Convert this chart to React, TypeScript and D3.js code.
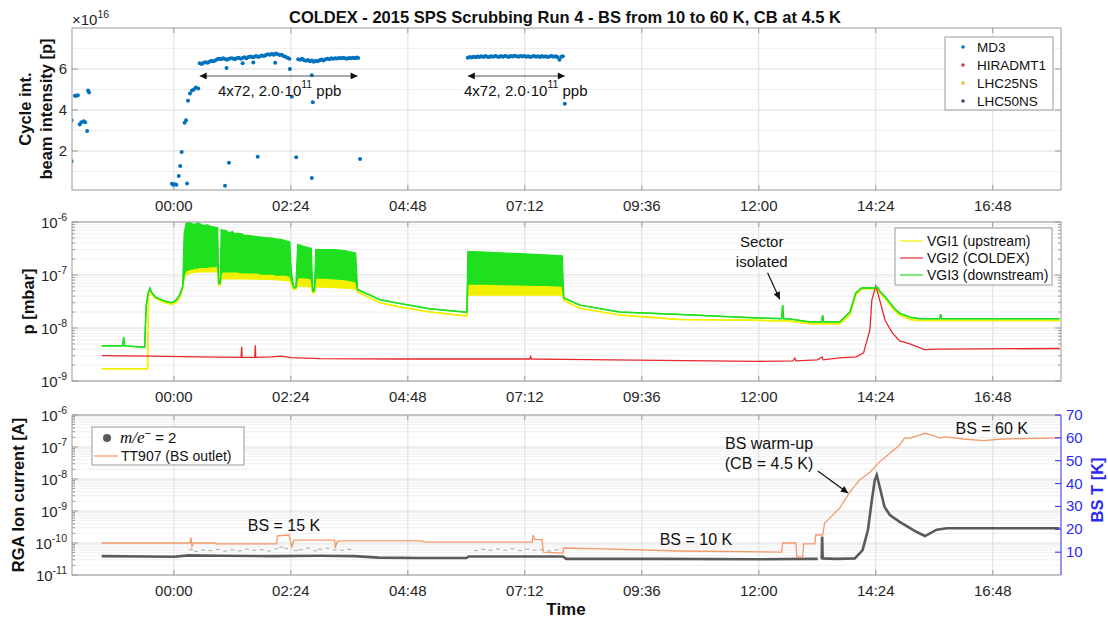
import React from 'react';
import * as d3 from 'd3';

// ---------------- data ----------------
const TIME_TICKS = [0, 2.4, 4.8, 7.2, 9.6, 12, 14.4, 16.8];
const TIME_LABELS = ['00:00', '02:24', '04:48', '07:12', '09:36', '12:00', '14:24', '16:48'];
const TIME_DOMAIN: [number, number] = [-2.09, 18.2];

const INTENSITY_TICKS = [2, 4, 6];
const INTENSITY_MINOR = [1, 3, 5, 7];
// MD3 cycle integrated intensity [1e16 p], time in hours from 00:00
const MD3: [number, number][] = [
  [-2.1, 3.5], [-2.1, 1.5], [-2.03, 4.7], [-2.0, 4.7], [-1.97, 4.72], [-1.93, 3.3], [-1.9, 3.4],
  [-1.85, 3.45], [-1.82, 3.4], [-1.78, 2.98], [-1.76, 4.95], [-1.74, 4.85],
  [-0.04, 0.4], [-0.01, 0.35], [0.02, 0.38], [0.05, 0.36], [0.1, 0.78], [0.13, 1.27], [0.16, 1.95],
  [0.22, 3.38], [0.25, 3.5], [0.27, 0.42], [0.29, 4.45], [0.33, 4.8], [0.37, 4.95], [0.41, 5.0],
  [0.45, 5.1], [0.5, 5.05],
  [0.53, 6.28], [0.57, 6.25], [0.61, 6.3], [0.65, 6.33], [0.69, 6.31], [0.73, 6.36], [0.77, 6.4],
  [0.81, 6.38], [0.85, 6.42], [0.89, 6.47], [0.93, 6.5], [0.97, 6.48], [1.01, 6.52], [1.05, 6.49],
  [1.09, 6.45], [1.13, 6.5], [1.17, 6.53], [1.21, 6.51], [1.25, 6.47], [1.29, 6.52], [1.33, 6.55],
  [1.37, 6.5], [1.41, 6.54], [1.45, 6.57], [1.49, 6.53], [1.53, 6.58], [1.57, 6.61], [1.61, 6.57],
  [1.65, 6.6], [1.69, 6.63], [1.73, 6.58], [1.77, 6.62], [1.81, 6.66], [1.85, 6.63], [1.89, 6.68],
  [1.93, 6.72], [1.97, 6.69], [2.01, 6.74], [2.05, 6.7], [2.09, 6.76], [2.13, 6.72], [2.17, 6.68],
  [2.21, 6.7], [2.25, 6.64], [2.29, 6.6], [2.33, 6.55], [2.37, 6.5],
  [1.08, 6.05], [1.41, 6.28], [1.63, 6.32], [2.08, 6.3], [2.38, 6.0], [2.42, 4.65],
  [1.05, 0.31], [1.13, 1.43], [1.72, 1.72], [2.51, 1.7], [2.83, 5.7], [2.85, 4.38], [2.83, 0.68], [3.82, 1.61],
  [2.55, 6.48], [2.59, 6.45], [2.63, 6.5], [2.67, 6.43], [2.71, 6.4], [2.75, 6.44], [2.79, 6.38],
  [2.83, 6.42], [2.87, 6.36], [2.91, 6.4], [2.95, 6.38], [2.99, 6.43], [3.03, 6.46], [3.07, 6.42],
  [3.11, 6.47], [3.15, 6.5], [3.19, 6.48], [3.23, 6.52], [3.27, 6.5], [3.31, 6.53], [3.35, 6.51],
  [3.39, 6.54], [3.43, 6.52], [3.47, 6.55], [3.51, 6.53], [3.55, 6.5], [3.59, 6.54], [3.63, 6.52],
  [3.67, 6.55], [3.71, 6.53], [3.75, 6.56], [3.78, 6.54],
  [6.03, 6.55], [6.07, 6.58], [6.11, 6.56], [6.15, 6.6], [6.19, 6.57], [6.23, 6.61], [6.27, 6.58],
  [6.31, 6.62], [6.35, 6.59], [6.39, 6.63], [6.43, 6.6], [6.47, 6.58], [6.51, 6.62], [6.55, 6.6],
  [6.59, 6.64], [6.63, 6.61], [6.67, 6.59], [6.71, 6.63], [6.75, 6.6], [6.79, 6.64], [6.83, 6.62],
  [6.87, 6.59], [6.91, 6.63], [6.95, 6.61], [6.99, 6.65], [7.03, 6.62], [7.07, 6.6], [7.11, 6.64],
  [7.15, 6.61], [7.19, 6.63], [7.23, 6.6], [7.27, 6.62], [7.31, 6.58], [7.35, 6.61], [7.39, 6.63],
  [7.43, 6.6], [7.47, 6.62], [7.51, 6.59], [7.55, 6.63], [7.59, 6.6], [7.63, 6.62], [7.67, 6.58],
  [7.71, 6.61], [7.75, 6.63], [7.79, 6.6], [7.83, 6.62], [7.87, 6.58], [7.91, 6.45], [7.95, 6.6],
  [7.98, 6.62], [8.02, 4.3],
];
const TOP_LEGEND = ['MD3', 'HIRADMT1', 'LHC25NS', 'LHC50NS'];
const TOP_LEGEND_COLORS = ['#0072BD', '#dd3b4f', '#e8c02a', '#4a3f78'];

// pressure [mbar]: [t, low, high] (high omitted when the trace is a single line)
const P_DECADES = [-9, -8, -7, -6];
const VGI3: number[][] = [
  [-1.48, 4.6e-9], [-1.05, 4.6e-9], [-1.03, 6.7e-9], [-1.01, 4.6e-9], [-0.7, 4.4e-9], [-0.6, 4.3e-9],
  [-0.57, 2.5e-8], [-0.53, 4.5e-8], [-0.49, 5.6e-8], [-0.45, 4.6e-8], [-0.37, 3.8e-8], [-0.18, 3.2e-8],
  [-0.04, 3.0e-8], [0.04, 3.3e-8], [0.12, 4.2e-8], [0.18, 6.0e-8],
  [0.21, 1.0e-7, 6.0e-7], [0.25, 1.2e-7, 9.5e-7], [0.33, 1.3e-7, 9.8e-7], [0.38, 1.3e-7, 9.2e-7],
  [0.43, 1.35e-7, 9.0e-7], [0.48, 1.35e-7, 9.6e-7], [0.53, 1.4e-7, 9.3e-7], [0.58, 1.4e-7, 8.8e-7],
  [0.63, 1.4e-7, 8.6e-7], [0.68, 1.4e-7, 8.9e-7], [0.74, 1.45e-7, 8.4e-7], [0.79, 1.45e-7, 8.2e-7],
  [0.84, 1.45e-7, 8.0e-7], [0.9, 1.45e-7, 7.8e-7], [0.92, 7.0e-8], [0.95, 7.0e-8],
  [0.97, 1.1e-7, 7.2e-7], [1.02, 1.15e-7, 7.0e-7], [1.07, 1.15e-7, 6.9e-7], [1.13, 1.15e-7, 6.2e-7],
  [1.2, 1.15e-7, 6.6e-7], [1.25, 1.15e-7, 6.0e-7], [1.3, 1.15e-7, 6.1e-7], [1.4, 1.1e-7, 6.0e-7],
  [1.45, 1.1e-7, 5.5e-7], [1.5, 1.1e-7, 5.6e-7], [1.6, 1.1e-7, 5.5e-7], [1.7, 1.1e-7, 5.3e-7],
  [1.8, 1.05e-7, 5.2e-7], [1.9, 1.05e-7, 5.0e-7], [2.0, 1.05e-7, 5.0e-7], [2.1, 1.0e-7, 4.8e-7],
  [2.2, 1.0e-7, 4.7e-7], [2.3, 1.0e-7, 4.4e-7], [2.38, 9.5e-8, 4.2e-7], [2.41, 8.0e-8, 1.2e-7],
  [2.46, 5.8e-8], [2.5, 5.8e-8], [2.54, 9.0e-8, 3.8e-7], [2.65, 9.0e-8, 3.5e-7], [2.75, 8.8e-8, 3.3e-7],
  [2.82, 8.5e-8, 3.2e-7], [2.85, 5.0e-8], [2.88, 5.0e-8], [2.91, 8.8e-8, 3.0e-7], [3.1, 8.8e-8, 3.0e-7],
  [3.3, 8.5e-8, 3.0e-7], [3.5, 8.2e-8, 2.9e-7], [3.73, 7.5e-8, 2.6e-7], [3.77, 5.3e-8],
  [4.02, 4.2e-8], [4.23, 3.4e-8], [4.64, 2.9e-8], [5.25, 2.3e-8], [5.97, 2.0e-8], [6.01, 2.0e-8],
  [6.03, 6.8e-8, 2.8e-7], [6.4, 6.8e-8, 2.7e-7], [6.8, 6.6e-8, 2.6e-7], [7.2, 6.5e-8, 2.5e-7],
  [7.6, 6.4e-8, 2.4e-7], [7.97, 6.2e-8, 2.3e-7], [8.0, 3.7e-8], [8.33, 2.7e-8], [9.15, 2.0e-8],
  [10.38, 1.8e-8], [11.96, 1.55e-8], [12.47, 1.5e-8], [12.49, 2.7e-8], [12.51, 1.5e-8], [12.64, 1.48e-8],
  [13.05, 1.3e-8], [13.29, 1.3e-8], [13.31, 1.76e-8], [13.33, 1.3e-8], [13.66, 1.3e-8], [13.87, 2.0e-8],
  [13.99, 4.6e-8], [14.11, 5.7e-8], [14.38, 5.7e-8], [14.42, 6.0e-8], [14.48, 5.0e-8], [14.59, 3.9e-8],
  [14.79, 2.3e-8], [14.89, 1.9e-8], [15.1, 1.6e-8], [15.3, 1.5e-8], [15.71, 1.5e-8], [15.73, 1.8e-8],
  [15.75, 1.5e-8], [18.17, 1.5e-8],
];
const VGI1: number[][] = [
  [-1.48, 1.7e-9], [-0.54, 1.7e-9], [-0.52, 4.0e-8], [-0.49, 5.2e-8], [-0.45, 4.3e-8], [-0.37, 3.6e-8],
  [-0.18, 3.0e-8], [-0.04, 2.8e-8], [0.04, 3.0e-8], [0.12, 3.8e-8], [0.18, 5.5e-8],
  [0.21, 9.0e-8, 1.0e-7], [0.25, 1.0e-7, 1.25e-7], [0.33, 1.1e-7, 1.35e-7], [0.53, 1.15e-7, 1.45e-7],
  [0.74, 1.15e-7, 1.5e-7], [0.9, 1.15e-7, 1.5e-7], [0.92, 6.5e-8], [0.95, 6.5e-8],
  [0.97, 8.5e-8, 1.2e-7], [1.4, 8.5e-8, 1.2e-7], [2.0, 8.3e-8, 1.1e-7], [2.38, 7.8e-8, 1.0e-7],
  [2.41, 6.5e-8, 8.0e-8], [2.46, 5.4e-8], [2.5, 5.4e-8], [2.54, 6.2e-8, 9.0e-8], [2.82, 6.0e-8, 8.8e-8],
  [2.85, 4.6e-8], [2.88, 4.6e-8], [2.91, 6.0e-8, 8.8e-8], [3.3, 5.8e-8, 8.5e-8], [3.73, 5.5e-8, 7.5e-8],
  [3.77, 4.8e-8], [4.02, 3.7e-8], [4.23, 3.0e-8], [4.64, 2.5e-8], [5.25, 2.0e-8], [5.97, 1.7e-8],
  [6.01, 1.7e-8], [6.03, 4.2e-8, 6.8e-8], [7.97, 4.2e-8, 6.2e-8], [8.0, 3.3e-8], [8.33, 2.35e-8],
  [9.15, 1.75e-8], [10.38, 1.45e-8], [11.96, 1.4e-8], [12.64, 1.35e-8], [13.05, 1.2e-8], [13.66, 1.2e-8],
  [13.87, 1.8e-8], [13.99, 4.2e-8], [14.11, 5.5e-8], [14.38, 5.5e-8], [14.48, 4.7e-8], [14.59, 3.6e-8],
  [14.79, 2.1e-8], [14.89, 1.75e-8], [15.1, 1.45e-8], [15.3, 1.38e-8], [18.17, 1.38e-8],
];
const VGI2: [number, number][] = [
  [-1.48, 3.0e-9], [-0.5, 2.95e-9], [0.5, 2.85e-9], [1.38, 2.8e-9], [1.39, 4.4e-9], [1.4, 2.8e-9],
  [1.66, 2.8e-9], [1.67, 4.7e-9], [1.68, 2.8e-9], [2.0, 2.85e-9], [2.2, 2.95e-9], [2.4, 2.75e-9],
  [3.0, 2.65e-9], [4.64, 2.6e-9], [6.0, 2.6e-9], [7.3, 2.6e-9], [7.32, 2.9e-9], [7.34, 2.6e-9],
  [8.0, 2.55e-9], [10.0, 2.45e-9], [12.0, 2.35e-9], [12.7, 2.4e-9], [12.74, 2.7e-9], [12.76, 2.4e-9],
  [13.2, 2.5e-9], [13.3, 2.85e-9], [13.32, 2.5e-9], [13.66, 2.74e-9], [14.0, 2.85e-9], [14.15, 3.4e-9],
  [14.28, 9.3e-9], [14.32, 3.4e-8], [14.4, 6.2e-8], [14.48, 3.4e-8], [14.59, 1.4e-8], [14.74, 8.1e-9],
  [14.89, 5.7e-9], [15.1, 5.0e-9], [15.4, 3.9e-9], [15.7, 4.0e-9], [18.17, 4.1e-9],
];
const P_LEGEND = ['VGI1 (upstream)', 'VGI2 (COLDEX)', 'VGI3 (downstream)'];
const P_COLORS = ['#f2f000', '#e8282c', '#1ee01e'];

// RGA ion current [A]
const RGA_DECADES = [-11, -10, -9, -8, -7, -6];
const RGA_M2: [number, number][] = [
  [-1.48, 3.9e-11], [-0.6, 3.8e-11], [0.0, 3.7e-11], [0.3, 4.1e-11], [1.0, 4.0e-11], [2.0, 3.9e-11],
  [3.0, 4.0e-11], [3.7, 3.9e-11], [4.2, 3.5e-11], [5.0, 3.4e-11], [6.0, 3.4e-11], [6.05, 3.8e-11],
  [7.0, 3.8e-11], [7.98, 3.8e-11], [8.05, 3.2e-11], [10.0, 3.2e-11], [12.0, 3.1e-11], [13.0, 3.2e-11],
  [13.21, 3.2e-11], [13.25, NaN], [13.29, 3.2e-11], [13.3, 1.6e-10], [13.31, 3.3e-11], [13.6, 3.2e-11],
  [13.97, 3.3e-11], [14.13, 6e-11], [14.24, 2.6e-10], [14.32, 2.2e-9], [14.38, 9.3e-9], [14.42, 1.33e-8],
  [14.48, 5.6e-9], [14.58, 1.33e-9], [14.69, 7.5e-10], [14.89, 4.6e-10], [15.24, 2.2e-10],
  [15.41, 1.65e-10], [15.65, 2.6e-10], [15.86, 2.9e-10], [18.17, 2.9e-10],
];
const RGA_M2_SCATTER: [number, number][] = [
  [0.35, 6.2e-11], [0.45, 5.5e-11], [0.6, 6.0e-11], [0.75, 5.8e-11], [0.9, 6.3e-11], [1.05, 5.6e-11],
  [1.2, 6.1e-11], [1.35, 5.7e-11], [1.5, 6.4e-11], [1.65, 5.9e-11], [1.8, 6.2e-11], [1.95, 5.6e-11],
  [2.1, 6.6e-11], [2.2, 7.5e-11], [2.3, 6.8e-11], [2.5, 5.8e-11], [2.6, 6.2e-11], [2.75, 6.9e-11],
  [2.9, 5.7e-11], [3.0, 6.4e-11], [3.15, 6.8e-11], [3.3, 6.1e-11], [3.45, 5.9e-11], [3.6, 6.3e-11],
  [6.2, 5.8e-11], [6.35, 6.3e-11], [6.5, 5.9e-11], [6.65, 6.5e-11], [6.8, 6.0e-11], [6.95, 6.6e-11],
  [7.1, 5.8e-11], [7.25, 6.4e-11], [7.4, 6.0e-11], [7.55, 6.2e-11], [7.7, 5.7e-11], [7.85, 6.1e-11],
];
// TT907 beam screen temperature [K]
const BST_TICKS = [10, 20, 30, 40, 50, 60, 70];
const TT907: [number, number][] = [
  [-1.48, 14.0], [0.33, 14.0], [0.35, 16.5], [0.37, 12.5], [0.4, 14.0], [0.84, 14.0], [0.86, 13.6],
  [2.11, 13.6], [2.12, 17.1], [2.36, 17.5], [2.42, 12.3], [2.46, 15.3], [3.3, 15.3], [3.31, 11.8],
  [3.36, 14.9], [5.1, 14.9], [5.15, 14.4], [7.35, 14.4], [7.37, 17.5], [7.4, 15.5], [7.55, 15.5],
  [7.58, 10.0], [7.98, 9.6], [8.0, 11.8], [8.8, 11.4], [10.38, 10.5], [12.47, 10.0], [12.49, 14.0],
  [12.76, 14.0], [12.78, 7.9], [12.9, 7.9], [12.92, 13.6], [13.15, 13.6], [13.17, 17.5], [13.31, 17.5],
  [13.35, 22.7], [13.46, 25.0], [13.66, 29.3], [13.87, 36.4], [14.07, 41.6], [14.28, 45.0],
  [14.48, 49.5], [14.69, 53.3], [14.89, 56.9], [14.99, 59.9], [15.1, 59.9], [15.3, 61.2], [15.41, 62.0],
  [15.61, 60.8], [15.71, 59.9], [15.82, 60.4], [16.2, 59.5], [16.6, 58.8], [17.0, 59.5], [18.17, 60.0],
];

// ---------------- layout / style ----------------
const W = 1108, H = 621;
const XL = 72, XR = 1061;
const TOP = { y0: 28, y1: 190 };
const MID = { y0: 222, y1: 381 };
const BOT = { y0: 415, y1: 575 };
const FONT = "'Liberation Sans', Arial, Helvetica, sans-serif";
const GRID = '#dedede';
const MINOR = '#f0f0f0';
const AXIS = '#9a9a9a';
const TXT = '#262626';
const BLUE = '#2b2bf0';

const x = d3.scaleLinear().domain(TIME_DOMAIN).range([XL, XR]);
const yTop = d3.scaleLinear().domain([0.1, 8]).range([TOP.y1, TOP.y0]);
const yMid = d3.scaleLog().domain([1e-9, 1e-6]).range([MID.y1, MID.y0]);
const yBot = d3.scaleLog().domain([1e-11, 1e-6]).range([BOT.y1, BOT.y0]);
const yBst = d3.scaleLinear().domain([0, 70]).range([BOT.y1, BOT.y0]);

function minorLog(decades: number[]) {
  const out: number[] = [];
  for (let i = 0; i < decades.length - 1; i++) for (let k = 2; k <= 9; k++) out.push(k * Math.pow(10, decades[i]));
  return out;
}

function TimeGrid({ y0, y1, labels }: { y0: number; y1: number; labels: boolean }) {
  return (
    <g>
      {TIME_TICKS.map((t, i) => (
        <g key={i}>
          <line x1={x(t)} x2={x(t)} y1={y0} y2={y1} stroke={GRID} />
          <line x1={x(t)} x2={x(t)} y1={y1} y2={y1 - 5} stroke={AXIS} />
          <line x1={x(t)} x2={x(t)} y1={y0} y2={y0 + 5} stroke={AXIS} />
          {labels && (
            <text x={x(t)} y={y1 + 21} textAnchor="middle" fontSize={15} fill={TXT}>{TIME_LABELS[i]}</text>
          )}
        </g>
      ))}
    </g>
  );
}

function LogAxis({ y, decades, y0, y1, rightTicks }: any) {
  const minors = minorLog(decades);
  return (
    <g>
      {minors.map((v, i) => (
        <line key={'m' + i} x1={XL} x2={XR} y1={y(v)} y2={y(v)} stroke={MINOR} />
      ))}
      {decades.map((e: number, i: number) => (
        <line key={'g' + i} x1={XL} x2={XR} y1={y(Math.pow(10, e))} y2={y(Math.pow(10, e))} stroke={GRID} />
      ))}
      {minors.map((v, i) => (
        <g key={'mt' + i}>
          <line x1={XL} x2={XL + 3} y1={y(v)} y2={y(v)} stroke={AXIS} />
          {rightTicks && <line x1={XR} x2={XR - 3} y1={y(v)} y2={y(v)} stroke={AXIS} />}
        </g>
      ))}
      {decades.map((e: number, i: number) => (
        <g key={'t' + i}>
          <line x1={XL} x2={XL + 6} y1={y(Math.pow(10, e))} y2={y(Math.pow(10, e))} stroke={AXIS} />
          {rightTicks && <line x1={XR} x2={XR - 6} y1={y(Math.pow(10, e))} y2={y(Math.pow(10, e))} stroke={AXIS} />}
          <text x={67} y={y(Math.pow(10, e)) + 6} textAnchor="end" fontSize={15} fill={TXT}>
            10<tspan dy={-7} fontSize={10.5}>{String(e)}</tspan>
          </text>
        </g>
      ))}
    </g>
  );
}

function band(rows: number[][], y: any) {
  const r = rows.map((d) => [d[0], d[1], d.length > 2 ? d[2] : d[1]]);
  const area = d3.area<number[]>().x((d) => x(d[0])).y0((d) => y(d[1])).y1((d) => y(d[2]));
  const lo = d3.line<number[]>().x((d) => x(d[0])).y((d) => y(d[1]));
  const hi = d3.line<number[]>().x((d) => x(d[0])).y((d) => y(d[2]));
  return { area: area(r) || '', lo: lo(r) || '', hi: hi(r) || '' };
}

export default function App() {
  const g3 = band(VGI3, yMid);
  const g1 = band(VGI1, yMid);
  const red = d3.line<[number, number]>().x((d) => x(d[0])).y((d) => yMid(d[1]))(VGI2) || '';
  const m2 = d3
    .line<[number, number]>()
    .defined((d) => !isNaN(d[1]))
    .x((d) => x(d[0]))
    .y((d) => yBot(d[1]))(RGA_M2) || '';
  const tt = d3.line<[number, number]>().x((d) => x(d[0])).y((d) => yBst(d[1]))(TT907) || '';

  return (
    <svg width={W} height={H} viewBox={`0 0 ${W} ${H}`} fontFamily={FONT}
      style={{ position: 'absolute', left: 0, top: 0, background: '#fff' }}>
      <defs>
        <clipPath id="cTop"><rect x={XL} y={TOP.y0} width={XR - XL} height={TOP.y1 - TOP.y0} /></clipPath>
        <clipPath id="cMid"><rect x={XL} y={MID.y0} width={XR - XL} height={MID.y1 - MID.y0} /></clipPath>
        <clipPath id="cBot"><rect x={XL} y={BOT.y0} width={XR - XL} height={BOT.y1 - BOT.y0} /></clipPath>
        <marker id="ah" viewBox="0 0 10 10" refX={10} refY={5} markerWidth={9} markerHeight={7}
          orient="auto-start-reverse" markerUnits="userSpaceOnUse">
          <path d="M0,0 L10,5 L0,10 z" fill="#111" />
        </marker>
      </defs>
      <rect x={0} y={0} width={W} height={H} fill="#fff" />

      {/* Title */}
      <text x={565} y={23} textAnchor="middle" fontSize={16.5} fontWeight="bold" fill="#111">
        COLDEX - 2015 SPS Scrubbing Run 4 - BS from 10 to 60 K, CB at 4.5 K
      </text>

      {/* ---------------- TOP PANEL ---------------- */}
      <g>
        {INTENSITY_MINOR.map((v) => (
          <line key={'tm' + v} x1={XL} x2={XR} y1={yTop(v)} y2={yTop(v)} stroke={MINOR} />
        ))}
        {INTENSITY_TICKS.map((v) => (
          <g key={'tt' + v}>
            <line x1={XL} x2={XR} y1={yTop(v)} y2={yTop(v)} stroke={GRID} />
            <line x1={XL} x2={XL + 6} y1={yTop(v)} y2={yTop(v)} stroke={AXIS} />
            <line x1={XR} x2={XR - 6} y1={yTop(v)} y2={yTop(v)} stroke={AXIS} />
            <text x={67} y={yTop(v) + 5} textAnchor="end" fontSize={15} fill={TXT}>{v}</text>
          </g>
        ))}
        <TimeGrid y0={TOP.y0} y1={TOP.y1} labels={true} />
        <g clipPath="url(#cTop)">
          {MD3.map((d, i) => (
            <circle key={i} cx={x(d[0])} cy={yTop(d[1])} r={2} fill="#0072BD" />
          ))}
        </g>
        <rect x={XL} y={TOP.y0} width={XR - XL} height={TOP.y1 - TOP.y0} fill="none" stroke={AXIS} />
        <text x={72} y={25} fontSize={15} fill={TXT}>
          ×10<tspan dy={-7} fontSize={10.5}>16</tspan>
        </text>
        <text transform={`translate(25,${(TOP.y0 + TOP.y1) / 2}) rotate(-90)`} textAnchor="middle"
          dominantBaseline="central" fontSize={16.5} fontWeight="bold" fill="#111">Cycle int.</text>
        <text transform={`translate(46,${(TOP.y0 + TOP.y1) / 2}) rotate(-90)`} textAnchor="middle"
          dominantBaseline="central" fontSize={16.5} fontWeight="bold" fill="#111">beam intensity [p]</text>

        {/* arrows */}
        {[[0.53, 3.77, 2.17], [6.03, 8.02, 7.22]].map((a, i) => (
          <g key={'ar' + i}>
            <line x1={x(a[0])} x2={x(a[1])} y1={yTop(5.66)} y2={yTop(5.66)} stroke="#555" strokeWidth={1.2}
              markerStart="url(#ah)" markerEnd="url(#ah)" />
            <text x={x(a[2])} y={yTop(4.68)} textAnchor="middle" fontSize={15} fill="#111">
              4x72, 2.0·10<tspan dy={-8} fontSize={10.5}>11</tspan><tspan dy={8}> ppb</tspan>
            </text>
          </g>
        ))}

        {/* legend */}
        <rect x={945} y={37} width={108} height={73} fill="#fff" stroke={AXIS} />
        {TOP_LEGEND.map((s, i) => (
          <g key={s}>
            <circle cx={963} cy={47 + i * 18} r={1.8} fill={TOP_LEGEND_COLORS[i]} />
            <text x={977} y={47 + i * 18 + 5} fontSize={13.5} fill="#111">{s}</text>
          </g>
        ))}
      </g>

      {/* ---------------- MIDDLE PANEL ---------------- */}
      <g>
        <LogAxis y={yMid} decades={P_DECADES} y0={MID.y0} y1={MID.y1} rightTicks={true} />
        <TimeGrid y0={MID.y0} y1={MID.y1} labels={true} />
        <g clipPath="url(#cMid)">
          <path d={g1.area} fill={P_COLORS[0]} stroke="none" />
          <path d={g1.lo} fill="none" stroke={P_COLORS[0]} strokeWidth={1.5} />
          <path d={g1.hi} fill="none" stroke={P_COLORS[0]} strokeWidth={1.5} />
          <path d={red} fill="none" stroke={P_COLORS[1]} strokeWidth={1.3} />
          <path d={g3.area} fill={P_COLORS[2]} stroke="none" />
          <path d={g3.lo} fill="none" stroke={P_COLORS[2]} strokeWidth={1.5} />
          <path d={g3.hi} fill="none" stroke={P_COLORS[2]} strokeWidth={1.2} />
        </g>
        <rect x={XL} y={MID.y0} width={XR - XL} height={MID.y1 - MID.y0} fill="none" stroke={AXIS} />
        <text transform={`translate(28,${(MID.y0 + MID.y1) / 2}) rotate(-90)`} textAnchor="middle"
          dominantBaseline="central" fontSize={16.5} fontWeight="bold" fill="#111">p [mbar]</text>

        {/* Sector isolated */}
        <text x={x(12.06)} y={yMid(4.2e-7)} textAnchor="middle" dominantBaseline="central" fontSize={15} fill="#111">Sector</text>
        <text x={x(12.06)} y={yMid(1.76e-7)} textAnchor="middle" dominantBaseline="central" fontSize={15} fill="#111">isolated</text>
        <line x1={x(12.18)} y1={yMid(1.1e-7)} x2={x(12.43)} y2={yMid(3.5e-8)} stroke="#111" strokeWidth={1.2}
          markerEnd="url(#ah)" />

        {/* legend */}
        <rect x={895} y={228} width={157} height={57} fill="#fff" stroke={AXIS} />
        {P_LEGEND.map((s, i) => (
          <g key={s}>
            <line x1={900} x2={923} y1={241 + i * 17} y2={241 + i * 17} stroke={P_COLORS[i]} strokeWidth={1.2} />
            <text x={927} y={241 + i * 17 + 5} fontSize={14} fill="#111">{s}</text>
          </g>
        ))}
      </g>

      {/* ---------------- BOTTOM PANEL ---------------- */}
      <g>
        <LogAxis y={yBot} decades={RGA_DECADES} y0={BOT.y0} y1={BOT.y1} rightTicks={false} />
        <TimeGrid y0={BOT.y0} y1={BOT.y1} labels={true} />
        <g clipPath="url(#cBot)">
          {RGA_M2_SCATTER.map((d, i) => (
            <line key={i} x1={x(d[0]) - 2} x2={x(d[0]) + 2} y1={yBot(d[1])} y2={yBot(d[1])} stroke="#b4b4b4" strokeWidth={1.2} />
          ))}
          <path d={m2} fill="none" stroke="#5a5a5a" strokeWidth={2.6} />
          <path d={tt} fill="none" stroke="#f39a6b" strokeWidth={1.3} />
        </g>
        <line x1={XL} x2={XR} y1={BOT.y0} y2={BOT.y0} stroke={AXIS} />
        <line x1={XL} x2={XR} y1={BOT.y1} y2={BOT.y1} stroke={AXIS} />
        <line x1={XL} x2={XL} y1={BOT.y0} y2={BOT.y1} stroke={AXIS} />
        <line x1={XR} x2={XR} y1={BOT.y0} y2={BOT.y1} stroke={BLUE} />
        {BST_TICKS.map((v) => (
          <g key={'b' + v}>
            <line x1={XR} x2={XR - 6} y1={yBst(v)} y2={yBst(v)} stroke={BLUE} />
            <text x={1066} y={yBst(v) + 5} fontSize={15} fill={BLUE}>{v}</text>
          </g>
        ))}
        <text transform={`translate(18,${(BOT.y0 + BOT.y1) / 2}) rotate(-90)`} textAnchor="middle"
          dominantBaseline="central" fontSize={16.5} fontWeight="bold" fill="#111">RGA Ion current [A]</text>
        <text transform={`translate(1097,${(BOT.y0 + BOT.y1) / 2 - 5}) rotate(-90)`} textAnchor="middle"
          dominantBaseline="central" fontSize={16.5} fontWeight="bold" fill={BLUE}>BS T [K]</text>

        {/* annotations */}
        <text x={x(2.26)} y={yBot(3.4e-10)} textAnchor="middle" dominantBaseline="central" fontSize={16} fill="#111">BS = 15 K</text>
        <text x={x(10.71)} y={yBot(1.33e-10)} textAnchor="middle" dominantBaseline="central" fontSize={16} fill="#111">BS = 10 K</text>
        <text x={x(12.21)} y={yBot(1.33e-7)} textAnchor="middle" dominantBaseline="central" fontSize={16} fill="#111">BS warm-up</text>
        <text x={x(12.21)} y={yBot(3.16e-8)} textAnchor="middle" dominantBaseline="central" fontSize={16} fill="#111">(CB = 4.5 K)</text>
        <line x1={x(13.21)} y1={yBot(1.78e-8)} x2={x(13.83)} y2={yBot(3.65e-9)} stroke="#111" strokeWidth={1.2}
          markerEnd="url(#ah)" />
        <text x={x(16.78)} y={yBot(3.7e-7)} textAnchor="middle" dominantBaseline="central" fontSize={16} fill="#111">BS = 60 K</text>

        {/* legend */}
        <rect x={92} y={427} width={152} height={38} fill="#fff" stroke={AXIS} />
        <circle cx={107} cy={438} r={4} fill="#5a5a5a" />
        <text x={120} y={443} fontSize={15} fill="#111">
          <tspan fontFamily="'Liberation Serif', 'DejaVu Serif', serif" fontStyle="italic" fontSize={17}>m/e</tspan>
          <tspan dy={-6} fontSize={11}>−</tspan>
          <tspan dy={6}> = 2</tspan>
        </text>
        <line x1={94} x2={118} y1={456} y2={456} stroke="#f39a6b" strokeWidth={1.3} />
        <text x={121} y={461} fontSize={14} fill="#111">TT907 (BS outlet)</text>
      </g>

      <text x={566} y={615} textAnchor="middle" fontSize={17} fontWeight="bold" fill="#111">Time</text>
    </svg>
  );
}
